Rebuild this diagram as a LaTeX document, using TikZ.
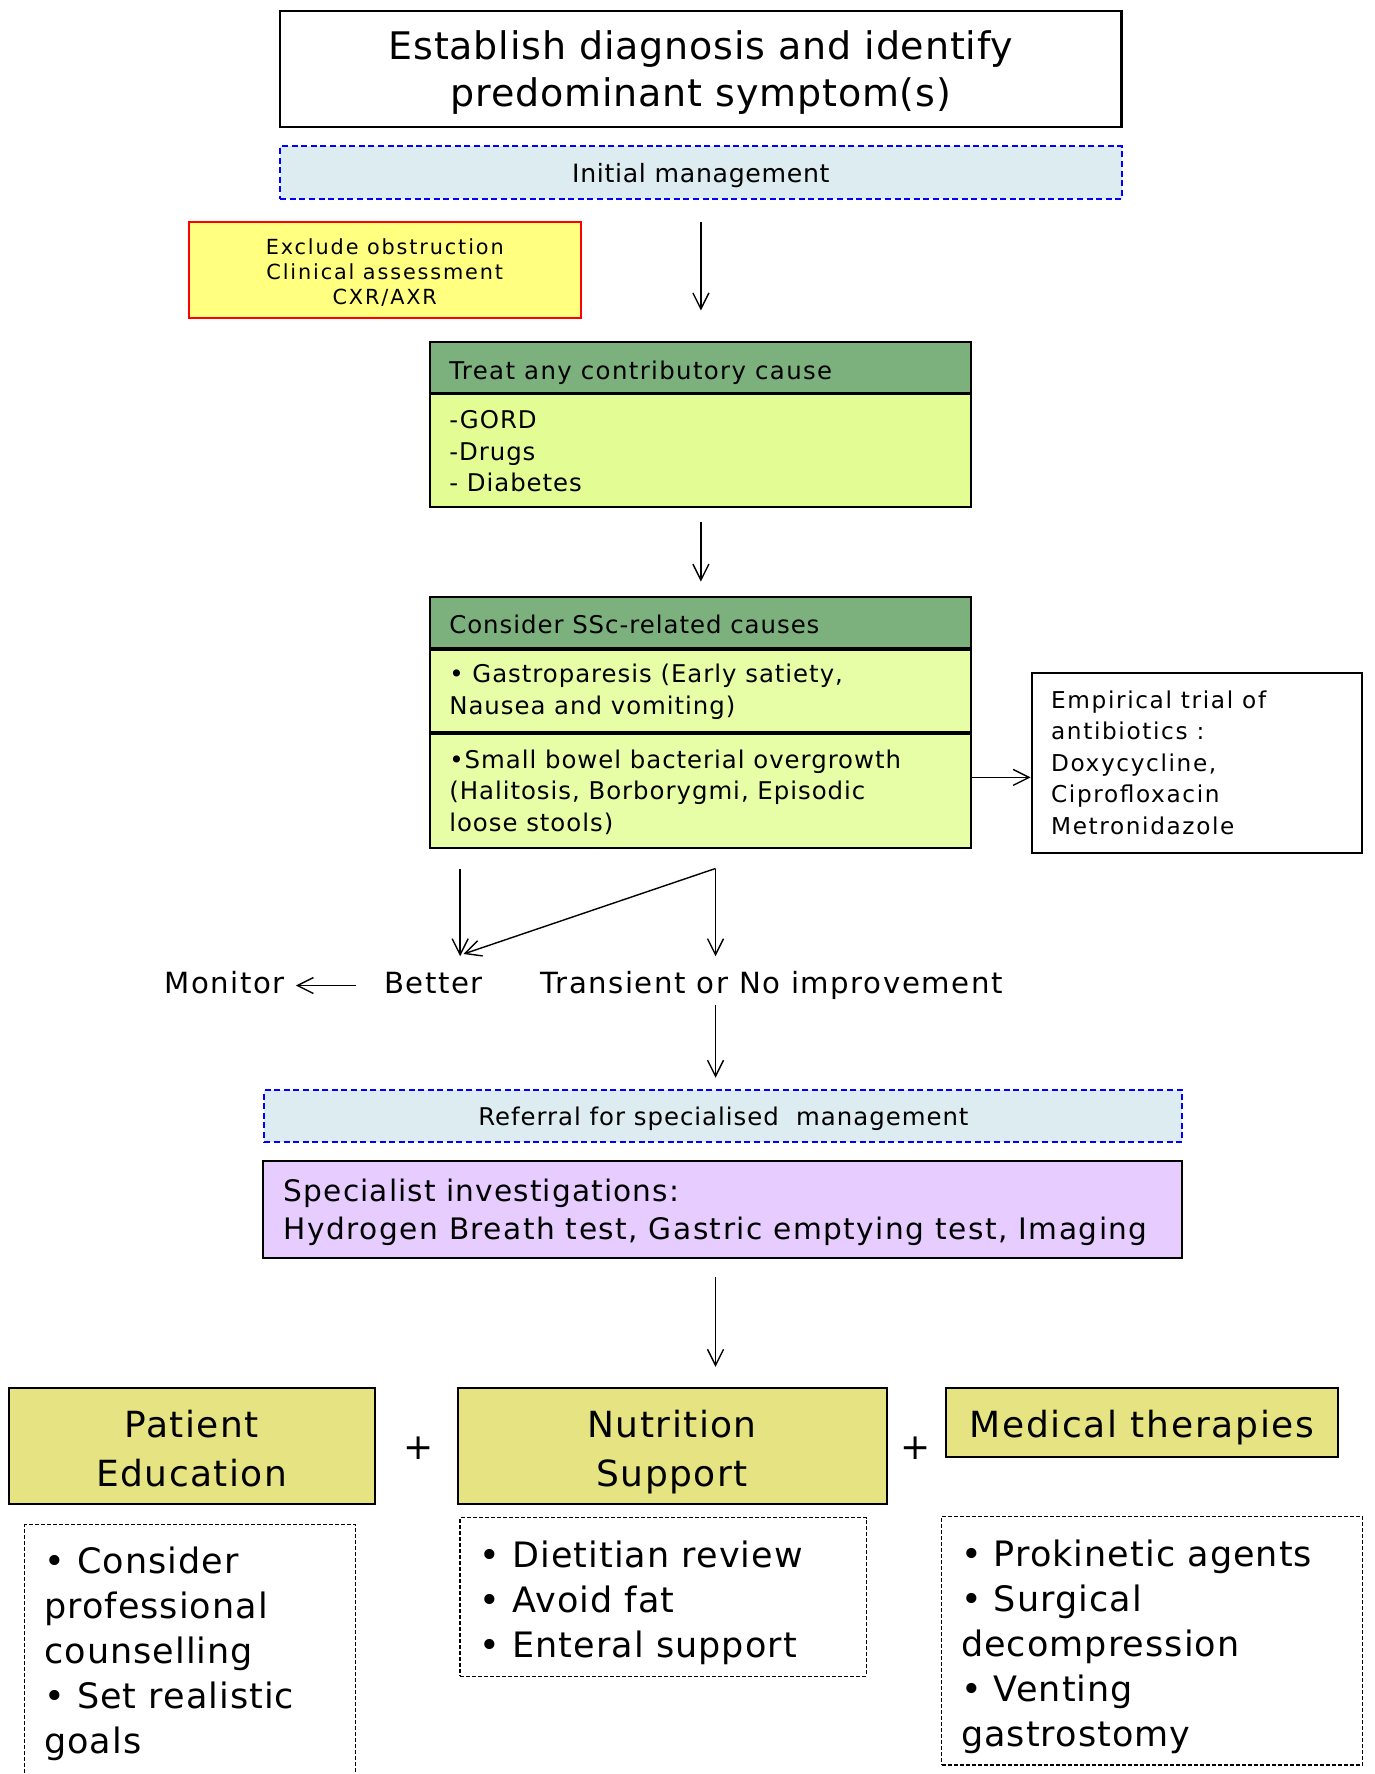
\documentclass[tikz,border=0pt]{standalone}
\usepackage{fontspec}
\setmainfont{DejaVu Sans}
\usetikzlibrary{arrows.meta,fit}
\definecolor{hdrgreen}{RGB}{124,176,124}
\definecolor{limebody}{RGB}{228,252,148}
\definecolor{limepale}{RGB}{232,254,166}
\definecolor{paleblue}{RGB}{221,236,240}
\definecolor{paleyellow}{RGB}{255,255,128}
\definecolor{lavender}{RGB}{230,204,255}
\definecolor{khaki}{RGB}{230,228,130}
\newcommand{\fl}[2]{\fontsize{#1}{#1}\selectfont\addfontfeature{LetterSpace=#2}}
\begin{document}
\begin{tikzpicture}[x=0.5625pt,y=-0.5625pt,
  box/.style={draw=black, line width=1pt, inner sep=0pt},
  dashblue/.style={draw=blue, line width=1pt, dash pattern=on 3pt off 1.8pt, fill=paleblue, inner sep=0pt},
  dashblack/.style={draw=black, line width=0.7pt, dash pattern=on 2pt off 1pt, inner sep=0pt},
  arr/.style={-{Straight Barb[length=8pt,width=8pt]}, line width=0.7pt},
  txt/.style={inner sep=0pt, anchor=base west},
  ctxt/.style={inner sep=0pt, anchor=base},
  sep/.style={line width=1.6pt}]
\useasboundingbox (0,0) rectangle (1222.2,1576.9);

% top box
\node[box, line width=1.2pt, fit={(249,10) (997,113)}] (top) {};
\node[ctxt, font=\fl{19}{2.2}] (top1) at (623,53) {Establish diagnosis and identify};
\node[ctxt, font=\fl{19}{2.2}] (top2) at (623,95) {predominant symptom(s)};

% initial management
\node[dashblue, fit={(249,130) (997,177)}] (init) {};
\node[ctxt, font=\fl{12.6}{2.7}] (initt) at (623,162) {Initial management};

% exclude box
\node[box, draw=red, fill=paleyellow, fit={(168,197) (516,283)}] (excl) {};
\node[ctxt, font=\fl{10.4}{9}] (ex1) at (342,226) {Exclude obstruction};
\node[ctxt, font=\fl{10.4}{9}] (ex2) at (342,248.5) {Clinical assessment};
\node[ctxt, font=\fl{10.4}{9}] (ex3) at (342,271) {CXR/AXR};

% treat box
\node[box, fill=hdrgreen, fit={(382,304) (863,349)}] (treath) {};
\node[box, fill=limebody, fit={(382,349) (863,451)}] (treatb) {};
\draw[sep] (treath.south west) -- (treath.south east);
\node[txt, font=\fl{12.2}{5.6}] (treatt) at (399,337) {Treat any contributory cause};
\node[txt, font=\fl{12.2}{4}] (tb1) at (399,381) {-GORD};
\node[txt, font=\fl{12.2}{4}] (tb2) at (399,409) {-Drugs};
\node[txt, font=\fl{12.2}{4}] (tb3) at (399,437) {- Diabetes};

% SSc box
\node[box, fill=hdrgreen, fit={(382,531) (863,576)}] (ssch) {};
\node[box, fill=limepale, fit={(382,576) (863,651)}] (sscb1) {};
\node[box, fill=limepale, fit={(382,651) (863,754)}] (sscb2) {};
\draw[sep] (ssch.south west) -- (ssch.south east);
\draw[sep] (sscb1.south west) -- (sscb1.south east);
\node[txt, font=\fl{12.2}{4}] (ssct) at (399,563) {Consider SSc-related causes};
\node[txt, font=\fl{12.2}{4}] (s1) at (399,607) {• Gastroparesis (Early satiety,};
\node[txt, font=\fl{12.2}{4}] (s2) at (399,635.5) {Nausea and vomiting)};
\node[txt, font=\fl{12.2}{4}] (s3) at (399,683) {•Small bowel bacterial overgrowth};
\node[txt, font=\fl{12.2}{4}] (s4) at (399,711) {(Halitosis, Borborygmi, Episodic};
\node[txt, font=\fl{12.2}{4}] (s5) at (399,739) {loose stools)};

% antibiotics
\node[box, fit={(917,598) (1211,758)}] (antib) {};
\node[txt, font=\fl{11.6}{7}] (ab1) at (934,629.5) {Empirical trial of};
\node[txt, font=\fl{11.6}{7}] (ab2) at (934,657.5) {antibiotics :};
\node[txt, font=\fl{11.6}{7}] (ab3) at (934,685.5) {Doxycycline,};
\node[txt, font=\fl{11.6}{7}] (ab4) at (934,713.5) {Ciprofloxacin};
\node[txt, font=\fl{11.6}{7}] (ab5) at (934,742) {Metronidazole};
\coordinate (abl) at (0,691);
\draw[arr] (sscb2.east |- abl) -- (antib.west |- abl);

% arrows
\coordinate (a1s) at (623,197); \coordinate (a1e) at (623,276);
\draw[arr] (a1s) -- (a1e);
\coordinate (a2s) at (623,464); \coordinate (a2e) at (623,517);
\draw[arr] (a2s) -- (a2e);
\coordinate (a3s) at (409,772); \coordinate (a3e) at (409,850);
\draw[arr] (a3s) -- (a3e);
\coordinate (a4s) at (636,772); \coordinate (a4e) at (636,850);
\draw[arr] (a4s) -- (a4e);
\coordinate (dge) at (412,848);
\draw[arr] (a4s) -- (dge);

% outcome texts
\node[txt, font=\fl{14.6}{5.3}] (mon) at (146,883) {Monitor};
\node[txt, font=\fl{14.6}{5.3}] (bet) at (341,883) {Better};
\node[txt, font=\fl{14.6}{5.3}] (trn) at (480,883) {Transient or No improvement};
\coordinate (mas) at (316,876); \coordinate (mae) at (263,876);
\draw[arr] (mas) -- (mae);
\coordinate (a5s) at (636,893); \coordinate (a5e) at (636,958);
\draw[arr] (a5s) -- (a5e);

% referral
\node[dashblue, fit={(235,969) (1051,1015)}] (refl) {};
\node[ctxt, font=\fl{12.2}{4}] (reft) at (643,1000) {Referral for specialised\ \ management};

% specialist
\node[box, fill=lavender, fit={(234,1032) (1051,1118)}] (spec) {};
\node[txt, font=\fl{14.8}{3.8}] (sp1) at (252,1068) {Specialist investigations:};
\node[txt, font=\fl{14.8}{5}] (sp2) at (252,1102) {Hydrogen Breath test, Gastric emptying test, Imaging};
\coordinate (a6s) at (636,1135); \coordinate (a6e) at (636,1215);
\draw[arr] (a6s) -- (a6e);

% bottom headers
\node[box, fill=khaki, fit={(8,1234) (333,1337)}] (pat) {};
\node[ctxt, font=\fl{18}{4}] (pat1) at (170.5,1277.5) {Patient};
\node[ctxt, font=\fl{18}{4}] (pat2) at (170.5,1321) {Education};
\node[box, fill=khaki, fit={(407,1234) (788,1337)}] (nut) {};
\node[ctxt, font=\fl{18}{4}] (nut1) at (597.5,1277.5) {Nutrition};
\node[ctxt, font=\fl{18}{4}] (nut2) at (597.5,1321) {Support};
\node[box, fill=khaki, fit={(841,1234) (1189,1295)}] (med) {};
\node[ctxt, font=\fl{18}{4.8}] (med1) at (1015,1277.5) {Medical therapies};
\node[inner sep=0pt, font=\fl{18}{0}] (plus1) at (372,1287) {+};
\node[inner sep=0pt, font=\fl{18}{0}] (plus2) at (814,1287) {+};

% bottom lists
\node[dashblack, fit={(22,1355) (316,1590)}] (lpat) {};
\node[txt, font=\fl{17.5}{3}] (lp1) at (39,1399) {• Consider};
\node[txt, font=\fl{17.5}{3}] (lp2) at (39,1439) {professional};
\node[txt, font=\fl{17.5}{3}] (lp3) at (39,1479) {counselling};
\node[txt, font=\fl{17.5}{3}] (lp4) at (39,1519) {• Set realistic};
\node[txt, font=\fl{17.5}{3}] (lp5) at (39,1559) {goals};

\node[dashblack, fit={(409,1349) (770,1490)}] (lnut) {};
\node[txt, font=\fl{17.5}{3}] (ln1) at (426,1393) {• Dietitian review};
\node[txt, font=\fl{17.5}{3}] (ln2) at (426,1433) {• Avoid fat};
\node[txt, font=\fl{17.5}{3}] (ln3) at (426,1473) {• Enteral support};

\node[dashblack, fit={(837,1348) (1211,1569)}] (lmed) {};
\node[txt, font=\fl{17.5}{3}] (lm1) at (854,1392) {• Prokinetic agents};
\node[txt, font=\fl{17.5}{3}] (lm2) at (854,1432) {• Surgical};
\node[txt, font=\fl{17.5}{3}] (lm3) at (854,1472) {decompression};
\node[txt, font=\fl{17.5}{3}] (lm4) at (854,1512) {• Venting};
\node[txt, font=\fl{17.5}{3}] (lm5) at (854,1552) {gastrostomy};
\end{tikzpicture}
\end{document}
